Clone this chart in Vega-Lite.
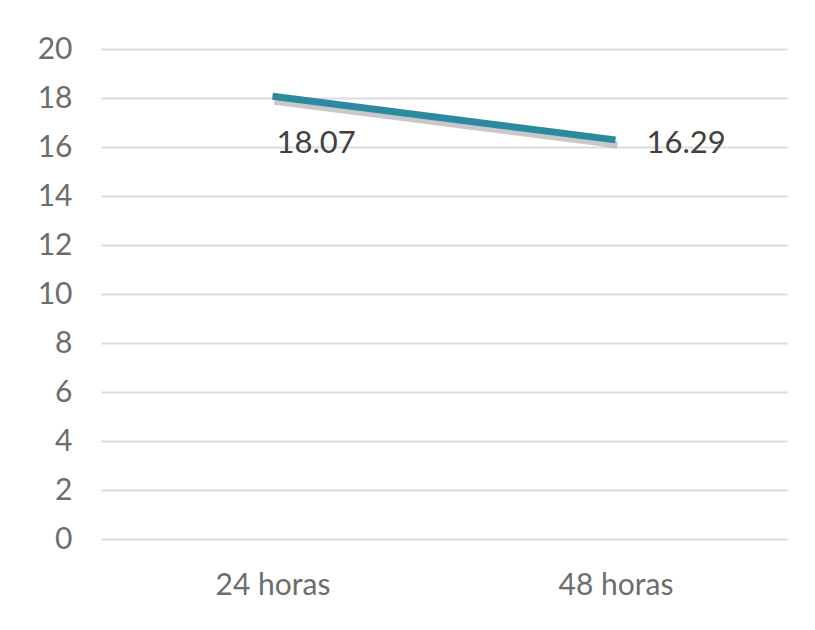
{
  "$schema": "https://vega.github.io/schema/vega-lite/v6.json",
  "width": 686,
  "height": 490,
  "autosize": "none",
  "padding": {"left": 101, "top": 49, "right": 28, "bottom": 91},
  "background": "white",
  "config": {"view": {"stroke": null}, "font": "Lato"},
  "data": {
    "values": [
      {"tiempo": "24 horas", "valor": 18.07, "etiqueta": "18.07"},
      {"tiempo": "48 horas", "valor": 16.29, "etiqueta": "16.29"}
    ]
  },
  "encoding": {
    "x": {
      "field": "tiempo",
      "type": "nominal",
      "sort": null,
      "scale": {"type": "point", "padding": 0.5},
      "axis": {
        "title": null,
        "labelAngle": 0,
        "domain": false,
        "ticks": false,
        "grid": false,
        "labelFont": "Lato",
        "labelFontSize": 30,
        "labelColor": "#6d6d6d",
        "labelPadding": 31
      }
    },
    "y": {
      "field": "valor",
      "type": "quantitative",
      "scale": {"domain": [0, 20]},
      "axis": {
        "title": null,
        "values": [0, 2, 4, 6, 8, 10, 12, 14, 16, 18, 20],
        "domain": false,
        "ticks": false,
        "gridColor": "#dcdcdc",
        "gridWidth": 2,
        "labelFont": "Lato",
        "labelFontSize": 30,
        "labelColor": "#6d6d6d",
        "labelPadding": 29
      }
    }
  },
  "layer": [
    {
      "mark": {
        "type": "line",
        "color": "#9a9a9a",
        "opacity": 0.55,
        "strokeWidth": 7,
        "xOffset": 2,
        "yOffset": 5
      }
    },
    {
      "mark": {
        "type": "line",
        "color": "#2C8AA0",
        "strokeWidth": 7,
        "strokeCap": "butt"
      }
    },
    {
      "transform": [{"filter": "datum.tiempo === '24 horas'"}],
      "mark": {
        "type": "text",
        "align": "left",
        "baseline": "alphabetic",
        "dx": 4,
        "dy": 57,
        "font": "Lato",
        "fontSize": 31,
        "color": "#404040"
      },
      "encoding": {"text": {"field": "etiqueta"}}
    },
    {
      "transform": [{"filter": "datum.tiempo === '48 horas'"}],
      "mark": {
        "type": "text",
        "align": "left",
        "baseline": "alphabetic",
        "dx": 31,
        "dy": 13,
        "font": "Lato",
        "fontSize": 31,
        "color": "#404040"
      },
      "encoding": {"text": {"field": "etiqueta"}}
    }
  ]
}
